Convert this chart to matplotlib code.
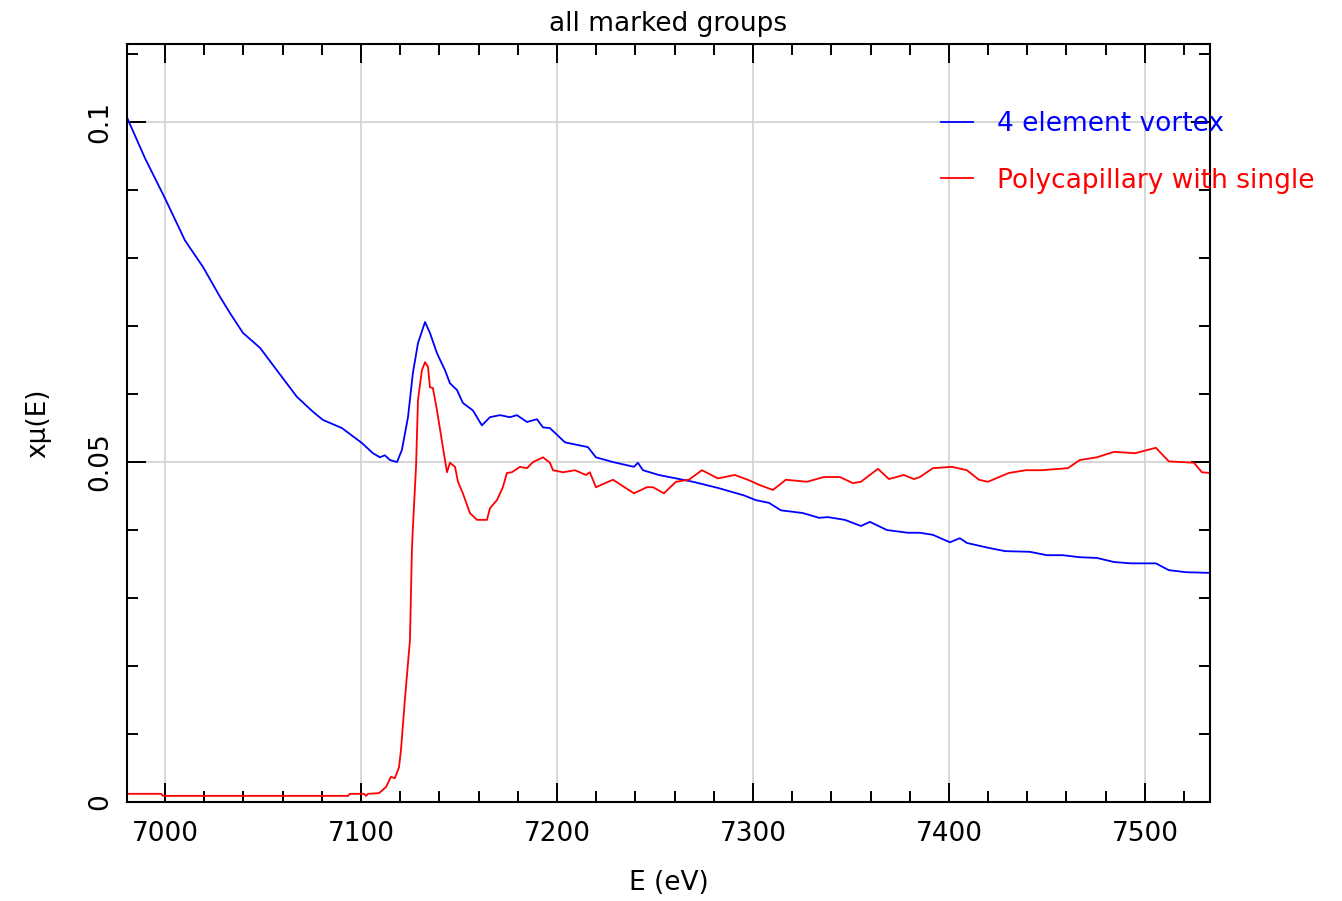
import numpy as np
import matplotlib.pyplot as plt
from matplotlib.ticker import MultipleLocator

# Values
e_vortex = [6980.6, 6989.8, 7000.0, 7010.2, 7019.4, 7028.1, 7033.2, 7039.8, 7048.5, 7057.1,
            7067.3, 7075.5, 7080.6, 7090.3, 7100.5, 7106.1, 7109.7, 7112.2, 7114.8, 7118.4,
            7120.9, 7124.0, 7126.5, 7129.1, 7132.7, 7135.2, 7138.8, 7142.9, 7145.4, 7149.0,
            7152.0, 7157.1, 7161.7, 7165.8, 7170.9, 7176.0, 7179.6, 7184.7, 7189.8, 7192.9,
            7196.4, 7204.1, 7215.8, 7219.9, 7228.6, 7239.3, 7241.3, 7243.9, 7252.0, 7260.7,
            7269.4, 7282.1, 7295.4, 7301.5, 7308.2, 7314.3, 7325.5, 7333.7, 7338.3, 7346.9,
            7355.1, 7359.7, 7368.4, 7379.1, 7385.2, 7391.8, 7400.5, 7405.6, 7409.2, 7419.9,
            7428.6, 7441.3, 7450.0, 7458.2, 7466.8, 7475.5, 7484.2, 7492.9, 7505.6, 7512.2,
            7520.9, 7533.2]
mu_vortex = [0.1007, 0.0947, 0.0888, 0.0826, 0.0787, 0.0743, 0.0719, 0.0690, 0.0668, 0.0635,
             0.0596, 0.0574, 0.0562, 0.0550, 0.0528, 0.0513, 0.0507, 0.0510, 0.0503, 0.0500,
             0.0518, 0.0566, 0.0631, 0.0675, 0.0706, 0.0690, 0.0660, 0.0635, 0.0616, 0.0606,
             0.0587, 0.0576, 0.0554, 0.0566, 0.0569, 0.0566, 0.0569, 0.0559, 0.0563, 0.0551,
             0.0550, 0.0529, 0.0522, 0.0507, 0.0500, 0.0493, 0.0499, 0.0488, 0.0481, 0.0476,
             0.0471, 0.0462, 0.0451, 0.0444, 0.0440, 0.0429, 0.0425, 0.0418, 0.0419, 0.0415,
             0.0406, 0.0412, 0.0400, 0.0396, 0.0396, 0.0393, 0.0382, 0.0388, 0.0381, 0.0374,
             0.0369, 0.0368, 0.0363, 0.0363, 0.0360, 0.0359, 0.0353, 0.0351, 0.0351, 0.0341,
             0.0338, 0.0337]

e_poly = [6980.6, 6998.0, 6999.0, 7093.4, 7094.4, 7101.5, 7102.6, 7103.6, 7109.2, 7112.8,
          7115.3, 7117.3, 7119.4, 7120.4, 7122.4, 7125.0, 7126.0, 7126.5, 7128.1, 7129.1,
          7131.1, 7132.7, 7134.2, 7135.2, 7136.7, 7138.8, 7141.8, 7143.9, 7145.4, 7148.0,
          7149.5, 7152.0, 7155.6, 7159.2, 7164.3, 7165.8, 7169.4, 7172.4, 7174.5, 7177.0,
          7181.1, 7184.7, 7187.8, 7192.9, 7196.4, 7198.0, 7203.1, 7209.2, 7214.8, 7216.8,
          7219.9, 7228.6, 7239.3, 7245.9, 7249.0, 7254.6, 7260.7, 7267.3, 7274.0, 7282.1,
          7290.8, 7297.4, 7303.6, 7310.2, 7316.8, 7327.6, 7336.2, 7344.4, 7351.0, 7355.1,
          7363.8, 7369.4, 7377.0, 7382.1, 7385.2, 7391.8, 7401.5, 7409.2, 7415.3, 7419.9,
          7430.6, 7439.3, 7447.4, 7460.7, 7466.8, 7475.5, 7484.2, 7494.9, 7505.6, 7512.2,
          7525.0, 7529.1, 7533.2]
mu_poly = [0.0012, 0.0012, 0.0009, 0.0009, 0.0012, 0.0012, 0.0009, 0.0012, 0.0013, 0.0022,
           0.0037, 0.0035, 0.0051, 0.0076, 0.0150, 0.0238, 0.0371, 0.0404, 0.0493, 0.0591,
           0.0635, 0.0647, 0.0640, 0.0610, 0.0609, 0.0576, 0.0522, 0.0485, 0.0499, 0.0493,
           0.0471, 0.0454, 0.0425, 0.0415, 0.0415, 0.0432, 0.0444, 0.0463, 0.0484, 0.0485,
           0.0493, 0.0491, 0.0500, 0.0507, 0.0499, 0.0488, 0.0485, 0.0488, 0.0481, 0.0485,
           0.0463, 0.0474, 0.0454, 0.0463, 0.0463, 0.0454, 0.0471, 0.0474, 0.0488, 0.0476,
           0.0481, 0.0474, 0.0466, 0.0459, 0.0474, 0.0471, 0.0478, 0.0478, 0.0469, 0.0471,
           0.0490, 0.0475, 0.0481, 0.0475, 0.0478, 0.0491, 0.0493, 0.0488, 0.0474, 0.0471,
           0.0484, 0.0488, 0.0488, 0.0491, 0.0503, 0.0507, 0.0515, 0.0513, 0.0521, 0.0501,
           0.0499, 0.0485, 0.0484]

fig = plt.figure(figsize=(13.42, 9.01), dpi=100)
ax = fig.add_axes([0.0946, 0.1099, 0.8070, 0.8413])

ax.plot(e_vortex, mu_vortex, color='blue', lw=1.3, label='4 element vortex')
ax.plot(e_poly, mu_poly, color='red', lw=1.3, label='Polycapillary with single')

ax.set_xlim(6980.6, 7533.2)
ax.set_ylim(0, 0.1115)

ax.xaxis.set_major_locator(MultipleLocator(100))
ax.xaxis.set_minor_locator(MultipleLocator(20))
ax.yaxis.set_major_locator(MultipleLocator(0.05))
ax.yaxis.set_minor_locator(MultipleLocator(0.01))
ax.set_yticks([0, 0.05, 0.1])
ax.set_yticklabels(['0', '0.05', '0.1'], rotation=90, va='center')

ax.tick_params(which='both', direction='in', top=True, right=True, width=1.4,
               labelsize=19, color='black')
ax.tick_params(which='major', length=14)
ax.tick_params(axis='x', which='major', pad=14)
ax.tick_params(axis='y', which='major', pad=10)
ax.tick_params(which='minor', length=8)
for s in ax.spines.values():
    s.set_linewidth(1.5)

ax.grid(True, which='major', color='#d3d3d3', lw=1.3)
ax.set_axisbelow(True)

ax.set_title('all marked groups', fontsize=19, pad=9)
ax.set_xlabel('E (eV)', fontsize=19, labelpad=16)
ax.set_ylabel('x\u03bc(E)', fontsize=19, labelpad=26)

leg = ax.legend(loc='upper left', bbox_to_anchor=(0.742, 0.925), frameon=False,
                fontsize=19, labelcolor='linecolor', handlelength=1.2,
                handletextpad=0.9, labelspacing=1.15, borderaxespad=0)

fig.savefig('out.png', dpi=100)
